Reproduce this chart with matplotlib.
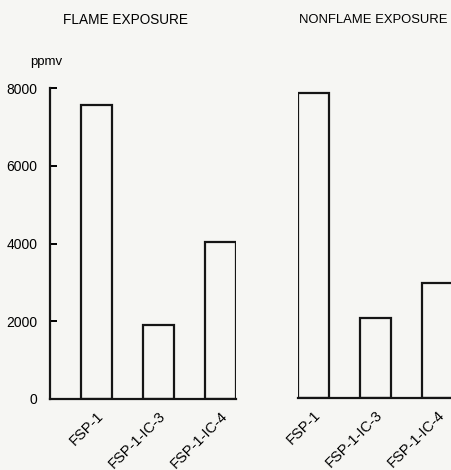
import matplotlib
matplotlib.use("Agg")
import matplotlib.pyplot as plt

plt.rcParams['font.family'] = ['Liberation Sans Narrow', 'Liberation Sans', 'DejaVu Sans']

samples = ['FSP-1', 'FSP-1-IC-3', 'FSP-1-IC-4']
flame_ppmv = [7550, 1900, 4050]
nonflame_ppmv = [7850, 2050, 2950]
y_ticks = [0, 2000, 4000, 6000, 8000]

bg = '#f6f6f3'
W, H = 451, 470
fig = plt.figure(figsize=(W / 100, H / 100), dpi=100, facecolor=bg)

pos = [1, 2, 3]

# left panel (with axis)
ax1 = fig.add_axes([50 / W, (H - 399) / H, (236 - 50) / W, (399 - 88) / H])
# right panel (no axis)
ax2 = fig.add_axes([298 / W, (H - 398) / H, (453 - 298) / W, (398 - 87) / H])

for ax, vals in [(ax1, flame_ppmv), (ax2, nonflame_ppmv)]:
    ax.set_facecolor(bg)
    ax.bar(pos, vals, width=0.5, facecolor='none', edgecolor='#151515', linewidth=1.6)
    ax.set_ylim(0, 8000)
    ax.set_xticks(pos)
    ax.set_xticklabels(samples, rotation=45, ha='right', va='top',
                       rotation_mode='anchor', fontsize=10.5)
    ax.tick_params(axis='x', length=0, pad=7)
    for s in ['top', 'right']:
        ax.spines[s].set_visible(False)
    ax.spines['bottom'].set_linewidth(1.6)
    ax.spines['bottom'].set_color('#151515')

ax1.set_xlim(0.25, 3.25)
ax1.set_yticks(y_ticks)
ax1.set_yticklabels([str(v) for v in y_ticks], fontsize=10)
ax1.tick_params(axis='y', direction='in', length=5, width=1.4, pad=9)
ax1.spines['left'].set_linewidth(1.6)
ax1.spines['left'].set_color('#151515')

ax2.set_xlim(0.75, 3.25)
ax2.spines['left'].set_visible(False)
ax2.set_yticks([])

fig.text(126 / W, 1 - 20 / H, 'FLAME EXPOSURE', ha='center', va='center', fontsize=9.8)
fig.text(373 / W, 1 - 20 / H, 'NONFLAME EXPOSURE', ha='center', va='center', fontsize=9.4)
fig.text(46 / W, 1 - 62 / H, 'ppmv', ha='center', va='center', fontsize=9.5)

fig.savefig('out.png', dpi=100, facecolor=bg)
